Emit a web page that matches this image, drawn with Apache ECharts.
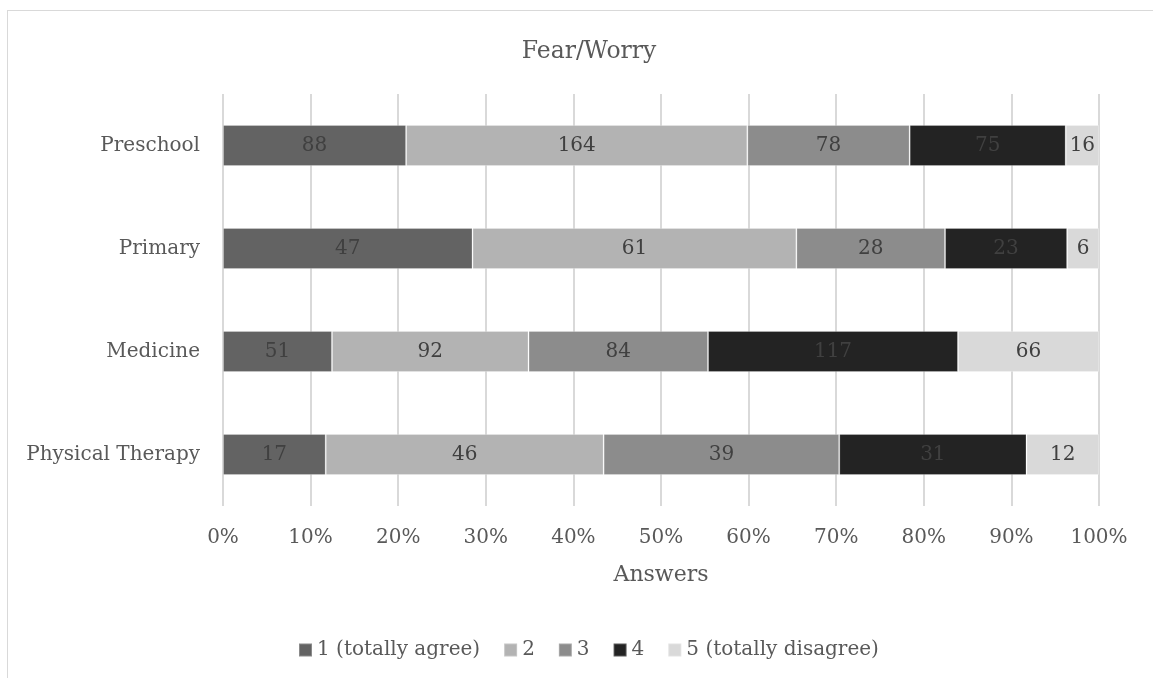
<!DOCTYPE html>
<html>
<head>
<meta charset="utf-8">
<script src="https://cdn.jsdelivr.net/npm/echarts@6/dist/echarts.min.js"></script>
<style>
  html, body { margin: 0; padding: 0; background: #fff; overflow: hidden; }
  #frame { position: absolute; left: 7px; top: 10px; width: 1160px; height: 680px;
           border: 1px solid #d9d9d9; box-sizing: border-box; }
  #chart { width: 1153px; height: 678px; position: absolute; left: 0; top: 0; }
</style>
</head>
<body>
<div id="frame"></div>
<div id="chart"></div>
<script>
// Survey answers per study programme (counts of respondents)
const categories = ['Physical Therapy', 'Medicine', 'Primary', 'Preschool'];
const seriesNames = ['1 (totally agree)', '2', '3', '4', '5 (totally disagree)'];
const answer1 = [17, 51, 47, 88];
const answer2 = [46, 92, 61, 164];
const answer3 = [39, 84, 28, 78];
const answer4 = [31, 117, 23, 75];
const answer5 = [12, 66, 6, 16];
const tickLabels = ['0%', '10%', '20%', '30%', '40%', '50%', '60%', '70%', '80%', '90%', '100%'];

const counts = [answer1, answer2, answer3, answer4, answer5];
const colors = ['#636363', '#b3b3b3', '#8c8c8c', '#232323', '#d9d9d9'];
const totals = categories.map((_, i) => counts.reduce((s, arr) => s + arr[i], 0));

const FONT = 'DejaVu Serif';
const TEXT = '#595959';
const chart = echarts.init(document.getElementById('chart'), null, { renderer: 'canvas' });

chart.setOption({
  animation: false,
  textStyle: { fontFamily: FONT },
  title: {
    text: 'Fear/Worry',
    left: 584,
    textAlign: 'center',
    top: 35,
    textStyle: { fontFamily: FONT, fontSize: 23.5, fontWeight: 'normal', color: TEXT }
  },
  legend: {
    top: 635,
    left: 293,
    itemWidth: 13,
    itemHeight: 13,
    itemGap: 23,
    icon: 'rect',
    textStyle: { fontFamily: FONT, fontSize: 20, color: TEXT },
    data: seriesNames
  },
  grid: { left: 223, right: 54, top: 94, bottom: 172, containLabel: false },
  xAxis: {
    type: 'value',
    min: 0,
    max: 100,
    interval: 10,
    name: 'Answers',
    nameLocation: 'middle',
    nameGap: 58,
    nameTextStyle: { fontFamily: FONT, fontSize: 22, color: TEXT },
    axisLine: { show: false },
    axisTick: { show: false },
    axisLabel: {
      margin: 22,
      fontFamily: FONT, fontSize: 20, color: TEXT,
      formatter: v => tickLabels[Math.round(v / 10)]
    },
    splitLine: { show: true, lineStyle: { color: '#d9d9d9', width: 2 } }
  },
  yAxis: {
    type: 'category',
    data: categories,
    axisLine: { show: false },
    axisTick: { show: false },
    axisLabel: { margin: 23, fontFamily: FONT, fontSize: 20, color: TEXT }
  },
  series: counts.map((arr, k) => ({
    name: seriesNames[k],
    type: 'bar',
    stack: 'total',
    barWidth: '40%',
    itemStyle: { color: colors[k], borderColor: 'rgba(255,255,255,0.25)', borderWidth: 1 },
    label: {
      show: true,
      position: 'inside',
      fontFamily: FONT,
      fontSize: 20,
      color: '#404040',
      formatter: p => String(arr[p.dataIndex])
    },
    data: arr.map((v, i) => v / totals[i] * 100)
  }))
});
</script>
</body>
</html>
